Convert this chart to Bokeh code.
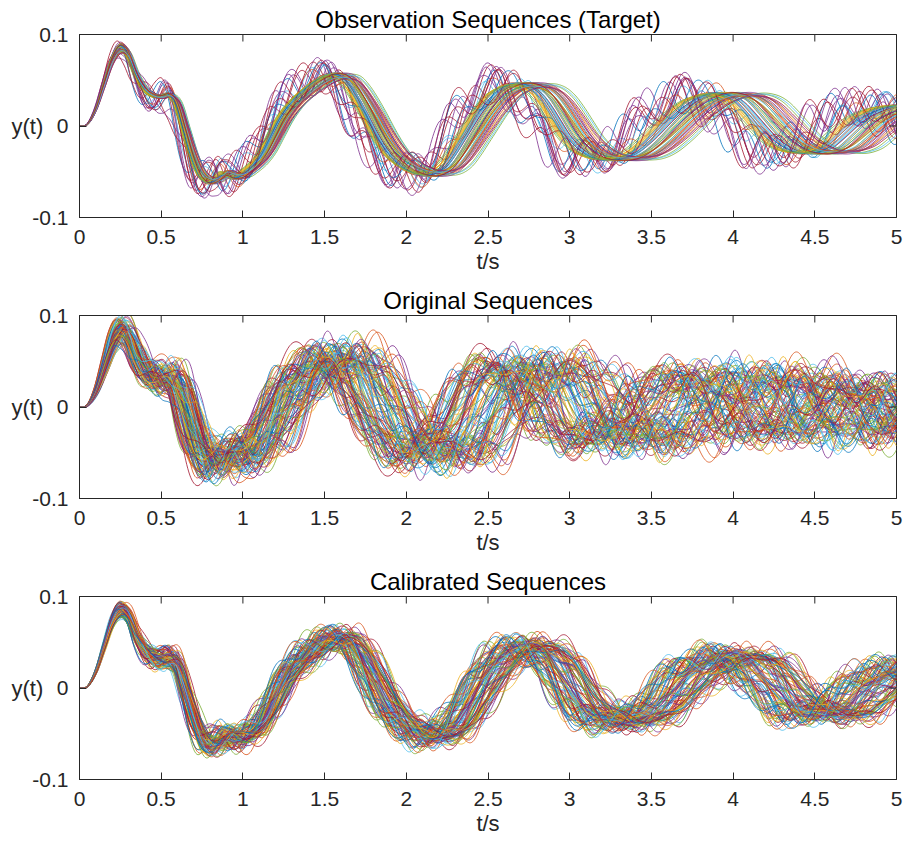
import numpy as np
from bokeh.plotting import figure
from bokeh.layouts import column
from bokeh.models import Range1d, FixedTicker, LinearAxis
from bokeh.embed import file_html
from bokeh.resources import INLINE

# Mean response y(t), sampled every 0.05 s from t = 0 to 5.6 s
base_step = 0.05
base_y = [
    0.000, 0.002, 0.018, 0.045, 0.072, 0.085, 0.078, 0.056, 0.041, 0.034,
    0.032, 0.034, 0.025, -0.004, -0.033, -0.053, -0.060, -0.058, -0.052, -0.055,
    -0.054, -0.048, -0.040, -0.028, -0.011, 0.006, 0.019, 0.029, 0.037, 0.044,
    0.050, 0.054, 0.055, 0.052, 0.042, 0.028, 0.012, -0.005, -0.020, -0.032,
    -0.040, -0.046, -0.050, -0.052, -0.052, -0.049, -0.042, -0.030, -0.016, -0.002,
    0.012, 0.024, 0.034, 0.040, 0.044, 0.045, 0.044, 0.040, 0.032, 0.020,
    0.006, -0.008, -0.019, -0.027, -0.032, -0.035, -0.036, -0.036, -0.035, -0.032,
    -0.027, -0.020, -0.012, -0.003, 0.006, 0.014, 0.021, 0.027, 0.031, 0.034,
    0.035, 0.034, 0.031, 0.025, 0.016, 0.006, -0.004, -0.013, -0.020, -0.025,
    -0.028, -0.029, -0.029, -0.027, -0.023, -0.016, -0.008, 0.000, 0.007, 0.012,
    0.016, 0.019, 0.021, 0.022, 0.022, 0.020, 0.016, 0.011, 0.005, -0.001,
    -0.007, -0.012, -0.016,
]

# Observation sequences (target): per-sequence time scale, gain and ripple
target_speed = [
    1.019, 0.979, 1.038, 1.072, 0.992, 1.006, 1.061, 1.029, 0.986, 1.043,
    1.085, 0.955, 1.048, 1.002, 1.094, 1.024, 0.997, 1.034, 0.962, 1.056,
    1.079, 0.982, 1.030, 0.970, 1.066, 1.046, 0.989, 1.018, 1.003, 1.043,
    1.040, 0.976, 0.994, 1.022, 1.102, 1.011, 0.973, 1.037, 1.088, 0.998,
    1.021, 0.965, 1.051, 0.987, 1.008, 0.978, 1.050, 1.032, 1.074, 1.014,
    0.995, 1.042, 1.096, 1.005, 0.958, 1.058, 1.026, 0.984, 1.013, 0.968,
    1.035, 0.990, 1.000,
]
target_gain = [1.00, 0.96, 1.03, 0.98, 1.05, 0.94, 1.01, 0.97, 1.04]
target_ripple = [
    0.0, 0.0, 0.0, 0.020, 0.0, 0.0, 0.018, 0.0, 0.0, 0.0,
    0.022, 0.0, 0.016, 0.0, 0.019, 0.0, 0.0, 0.0, 0.0, 0.014,
    0.021, 0.0, 0.0, 0.0, 0.017, 0.0, 0.0, 0.0, 0.0, 0.013,
    0.0, 0.0, 0.0, 0.0, 0.020, 0.0, 0.0, 0.0, 0.023, 0.0,
    0.0, 0.0, 0.015, 0.0, 0.0, 0.0, 0.0, 0.0, 0.018, 0.0,
    0.0, 0.0, 0.021, 0.0, 0.0, 0.016, 0.0, 0.0, 0.0, 0.0,
    0.0, 0.0, 0.0,
]
target_ripple_hz = [3.4, 3.7, 3.2, 3.9, 3.5, 3.3, 3.8, 3.6, 4.1, 3.45, 3.65]
target_ripple_phase = [0.3, 2.1, 4.0, 1.2, 5.3, 2.9, 0.8, 3.6, 4.7, 1.7, 5.9, 2.4, 0.1]

# Original sequences (before calibration), 105 runs
original_count = 105
original_speed = [
    1.000, 0.912, 1.083, 0.957, 1.121, 0.884, 1.036, 0.975, 1.062, 0.931,
    1.104, 0.896, 1.018, 0.948, 1.091, 0.869, 1.047, 0.987, 1.129, 0.921,
    1.071, 0.962, 1.009, 0.903, 1.114, 0.941, 1.055, 0.878, 1.027, 0.993,
    1.098, 0.935, 1.076, 0.969, 1.041, 0.954, 1.117,
]
original_gain = [1.00, 0.90, 1.08, 0.95, 1.12, 0.86, 1.04, 0.92, 1.10, 0.97, 0.88]
original_ripple = [0.014, 0.006, 0.020, 0.010, 0.003, 0.017, 0.008, 0.024, 0.012,
                   0.005, 0.019, 0.009, 0.015]
original_ripple_hz = [3.1, 4.2, 3.6, 2.8, 4.6, 3.3, 3.9, 2.6, 4.4, 3.5, 3.0, 4.0,
                      2.9, 3.7, 4.8, 3.2, 3.8]
original_ripple_phase = [0.0, 1.9, 3.7, 5.5, 1.1, 2.8, 4.6, 0.5, 2.3, 4.2, 5.9, 1.5,
                         3.3, 5.1, 0.8, 2.6, 4.4, 6.1, 1.3]

# Calibrated sequences, 100 runs
calibrated_count = 100
calibrated_speed = [
    1.000, 0.965, 1.035, 0.984, 1.051, 0.951, 1.016, 0.993, 1.043, 0.960,
    1.024, 0.976, 1.056, 0.948, 1.009, 0.988, 1.031, 0.970, 1.046, 0.956,
    1.013, 0.980, 1.039, 0.996, 1.020, 0.963, 1.054, 0.974, 1.005, 0.990,
    1.028, 0.954, 1.049,
]
calibrated_gain = [1.00, 0.95, 1.04, 0.98, 1.07, 0.93, 1.02, 0.96, 1.05]
calibrated_ripple = [0.008, 0.002, 0.012, 0.004, 0.016, 0.006, 0.001, 0.010, 0.014,
                     0.003, 0.009]
calibrated_ripple_hz = [3.5, 3.2, 3.9, 3.4, 3.7, 3.0, 4.1, 3.6, 3.3, 3.8, 3.1, 4.0, 3.45]
calibrated_ripple_phase = [0.4, 2.2, 4.1, 5.8, 1.0, 3.0, 4.9, 0.7, 2.6, 4.4, 6.0, 1.6,
                           3.5, 5.3, 0.2, 2.0, 3.8]

x_ticks = [0, 0.5, 1, 1.5, 2, 2.5, 3, 3.5, 4, 4.5, 5]
x_tick_labels = ["0", "0.5", "1", "1.5", "2", "2.5", "3", "3.5", "4", "4.5", "5"]
y_ticks = [-0.1, 0, 0.1]
y_tick_labels = ["-0.1", "0", "0.1"]

line_colors = ["#0072BD", "#D95319", "#EDB120", "#7E2F8E", "#77AC30", "#4DBEEE", "#A2142F"]
FONT = "Liberation Sans"
AXIS_COLOR = "#262626"

# figure geometry (pixels)
FIG_W, FIG_H = 904, 281
BORDER_L, BORDER_R, BORDER_T, BORDER_B = 79, 8, 34, 64
FRAME_W = FIG_W - BORDER_L - BORDER_R
FRAME_H = FIG_H - BORDER_T - BORDER_B
TICK_LEN = 7
X_MIN, X_MAX = 0.0, 5.0
Y_MIN, Y_MAX = -0.1, 0.1

t = np.linspace(X_MIN, X_MAX, 801)


def response(tq):
    """Catmull-Rom evaluation of the sampled mean response."""
    y = np.asarray(base_y)
    n = len(y)
    u = np.clip(tq / base_step, 0, n - 1.000001)
    i = np.floor(u).astype(int)
    s = u - i
    p0 = y[np.clip(i - 1, 0, n - 1)]
    p1 = y[i]
    p2 = y[np.clip(i + 1, 0, n - 1)]
    p3 = y[np.clip(i + 2, 0, n - 1)]
    return 0.5 * (2 * p1 + (p2 - p0) * s + (2 * p0 - 5 * p1 + 4 * p2 - p3) * s ** 2
                  + (3 * p1 - p0 - 3 * p2 + p3) * s ** 3)


def sequences(count, speed, gain, ripple, ripple_hz, ripple_phase):
    onset = 1.0 - np.exp(-(t / 0.35) ** 2)
    xs, ys, cs = [], [], []
    for k in range(count):
        y = gain[k % len(gain)] * response(t * speed[k % len(speed)])
        y = y + ripple[k % len(ripple)] * onset * np.sin(
            2 * np.pi * ripple_hz[k % len(ripple_hz)] * t + ripple_phase[k % len(ripple_phase)])
        xs.append(t)
        ys.append(y)
        cs.append(line_colors[k % len(line_colors)])
    return xs, ys, cs


def tick_key(v):
    return int(v) if float(v).is_integer() else v


def panel(title, data):
    p = figure(width=FIG_W, height=FIG_H, output_backend="svg", toolbar_location=None,
               x_range=Range1d(X_MIN, X_MAX), y_range=Range1d(Y_MIN, Y_MAX),
               min_border_left=BORDER_L, min_border_right=BORDER_R,
               min_border_top=BORDER_T, min_border_bottom=BORDER_B,
               background_fill_color="white", border_fill_color="white")
    p.grid.visible = False
    p.outline_line_color = AXIS_COLOR
    p.outline_line_width = 1

    p.title.text = title
    p.title.align = "center"
    p.title.text_font = FONT
    p.title.text_font_size = "24px"
    p.title.text_font_style = "normal"
    p.title.text_color = "#000000"
    p.title.standoff = 4

    xa = p.below[0]
    ya = p.left[0]

    # plain top edge of the box (its ticks are drawn as segments below)
    top = LinearAxis(ticker=FixedTicker(ticks=[]), major_label_text_font_size="0px",
                     major_label_standoff=0, major_tick_in=0, major_tick_out=0,
                     minor_tick_in=0, minor_tick_out=0, axis_line_color=AXIS_COLOR)
    p.add_layout(top, "above")

    xs, ys, cs = data
    p.multi_line(xs, ys, line_color=cs, line_width=0.8)

    # inward ticks on the top and right edges of the box
    dy = TICK_LEN * (Y_MAX - Y_MIN) / FRAME_H
    dx = TICK_LEN * (X_MAX - X_MIN) / FRAME_W
    p.segment(x0=x_ticks, y0=[Y_MAX] * len(x_ticks), x1=x_ticks,
              y1=[Y_MAX - dy] * len(x_ticks), line_color=AXIS_COLOR, line_width=1)
    p.segment(x0=[X_MAX] * len(y_ticks), y0=y_ticks, x1=[X_MAX - dx] * len(y_ticks),
              y1=y_ticks, line_color=AXIS_COLOR, line_width=1)

    xa.ticker = FixedTicker(ticks=x_ticks)
    xa.major_label_overrides = {tick_key(v): s for v, s in zip(x_ticks, x_tick_labels)}
    xa.axis_label = "t/s"
    xa.axis_label_standoff = 2
    xa.major_label_standoff = 12

    ya.ticker = FixedTicker(ticks=y_ticks)
    ya.major_label_overrides = {tick_key(v): s for v, s in zip(y_ticks, y_tick_labels)}
    ya.axis_label = "y(t)"
    ya.axis_label_orientation = "horizontal"
    ya.axis_label_standoff = -14
    ya.major_label_standoff = 11

    for ax in (xa, ya):
        ax.axis_line_color = AXIS_COLOR
        ax.major_tick_line_color = AXIS_COLOR
        ax.major_tick_in = TICK_LEN
        ax.major_tick_out = 0
        ax.minor_tick_in = 0
        ax.minor_tick_out = 0
        ax.minor_tick_line_color = None
        ax.major_label_text_font = FONT
        ax.major_label_text_font_size = "21px"
        ax.major_label_text_color = AXIS_COLOR
        ax.axis_label_text_font = FONT
        ax.axis_label_text_font_size = "22px"
        ax.axis_label_text_font_style = "normal"
        ax.axis_label_text_color = AXIS_COLOR
    return p


p1 = panel("Observation Sequences (Target)",
           sequences(len(target_speed), target_speed, target_gain, target_ripple,
                     target_ripple_hz, target_ripple_phase))
p2 = panel("Original Sequences",
           sequences(original_count, original_speed, original_gain, original_ripple,
                     original_ripple_hz, original_ripple_phase))
p3 = panel("Calibrated Sequences",
           sequences(calibrated_count, calibrated_speed, calibrated_gain, calibrated_ripple,
                     calibrated_ripple_hz, calibrated_ripple_phase))

layout = column(p1, p2, p3, spacing=0)
open("out.html", "w").write(file_html(layout, INLINE))
